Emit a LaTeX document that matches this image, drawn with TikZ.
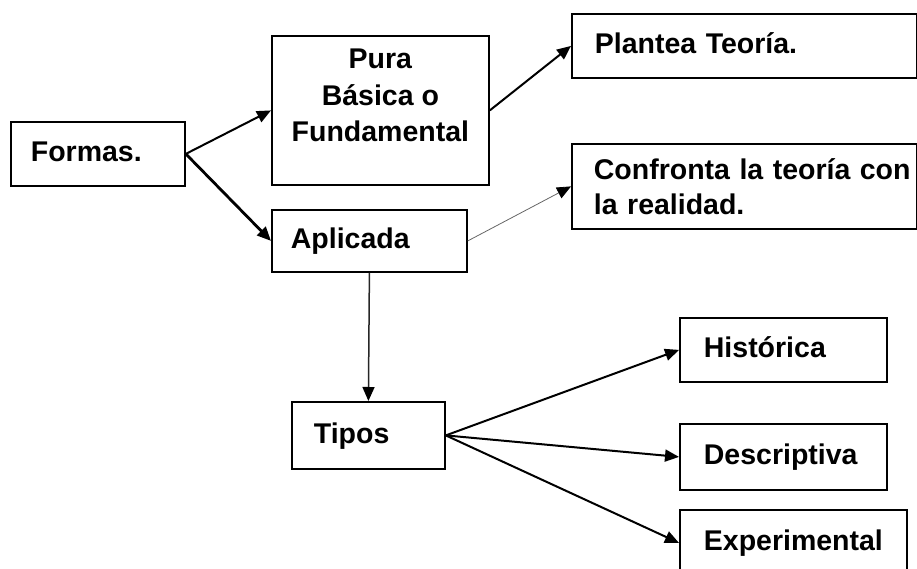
\documentclass[tikz,border=0pt]{standalone}
\usepackage{fontspec}
\setmainfont{Liberation Sans}
\usetikzlibrary{arrows.meta}
\tikzstyle{caja}=[rectangle,draw=black,line width=1.8pt,anchor=north west,align=left,inner ysep=0pt,font=\bfseries\fontsize{28.5}{35}\selectfont]
\tikzstyle{una}=[text height=20pt,text depth=4pt]
\tikzstyle{texto}=[align=center,inner sep=0pt,font=\bfseries\fontsize{28.5}{36.5}\selectfont]
\tikzstyle{flecha}=[-{Triangle[length=14pt,width=12pt,color=black]},line width=2pt]

\begin{document}
\begin{tikzpicture}[x=1pt,y=-1pt]
\useasboundingbox (0,0) rectangle (917,569);
\clip (0,0) rectangle (917,569);
\def \ins {24pt};

% primer nivel
\node[caja,una,minimum width=174pt,minimum height=64pt,inner xsep=20pt,text width=134pt] (formas)
	at (10,121) {Formas.};
\node[caja,minimum width=217pt,minimum height=149pt] (pura) at (271,35) {};
\node[texto] (puratxt) at ([yshift=15pt]pura.center) {Pura\\Básica o\\Fundamental};
\node[caja,una,minimum width=195pt,minimum height=62pt,inner xsep=19pt,text width=157pt] (aplicada)
	at (271,209) {Aplicada};

\node[caja,una,minimum width=345pt,minimum height=64pt,inner xsep=23pt,text width=299pt] (plantea)
	at (571,13) {Plantea Teoría.};
\node[caja,minimum width=345pt,minimum height=85pt,inner xsep=22pt,text width=301pt] (confronta)
	at (571,143) {\mbox{Confronta la teoría con}\\la realidad.};

\node[caja,una,minimum width=153pt,minimum height=67pt,inner xsep=22pt,text width=109pt] (tipos)
	at (291,401) {Tipos};

\foreach \nom/\txt/\y/\w/\h in {hist/Histórica/317/207/64, desc/Descriptiva/423/207/66, expe/Experimental/509/227/66} {
	\pgfmathsetmacro{\tw}{\w - 2*24}
	\node[caja,una,minimum width=\w pt,minimum height=\h pt,inner xsep=\ins,text width=\tw pt] (\nom)
	at (679,\y) {\txt};
};

\draw[flecha] (formas.east) -- (pura.west);
\draw[flecha,line width=2.8pt] (formas.east) -- (aplicada.west);
\draw[flecha] (pura.east) -- (plantea.west);
\draw[flecha,line width=0.8pt,draw=black!60] (aplicada.east) -- (confronta.west);
\draw[flecha,line width=1.5pt,draw=black!85] (aplicada.south) -- (tipos.north);

\foreach \nom in {hist,desc,expe} {
	\draw[flecha] (tipos.east) -- (\nom.west);
};

\end{tikzpicture}
\end{document}
